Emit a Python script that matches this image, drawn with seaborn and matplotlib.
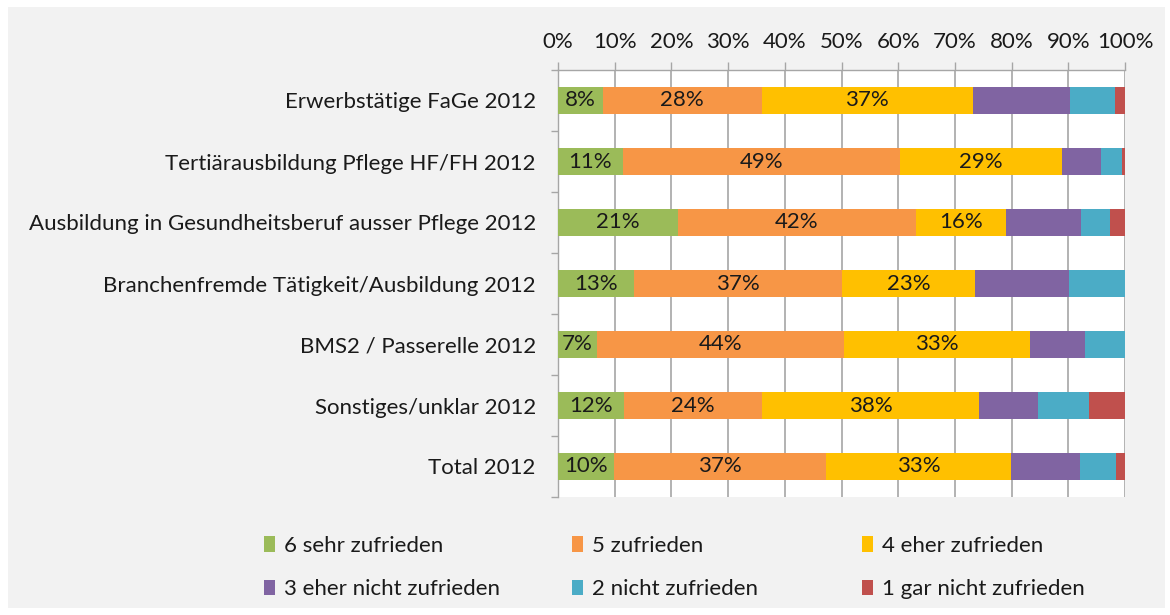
import numpy as np
import pandas as pd
import matplotlib
matplotlib.use("Agg")
import matplotlib.pyplot as plt
from matplotlib.patches import Patch, Rectangle
from matplotlib.ticker import MultipleLocator, FixedLocator, PercentFormatter
import seaborn as sns

# --- Daten (Anteile in %) ---
categories = [
    "Erwerbstätige FaGe 2012",
    "Tertiärausbildung Pflege HF/FH 2012",
    "Ausbildung in Gesundheitsberuf ausser Pflege 2012",
    "Branchenfremde Tätigkeit/Ausbildung 2012",
    "BMS2 / Passerelle 2012",
    "Sonstiges/unklar 2012",
    "Total 2012",
]
series_names = [
    "6 sehr zufrieden",
    "5 zufrieden",
    "4 eher zufrieden",
    "3 eher nicht zufrieden",
    "2 nicht zufrieden",
    "1 gar nicht zufrieden",
]
sehr_zufrieden = [7.9, 11.4, 21.1, 13.4, 6.9, 11.6, 9.9]
zufrieden = [28.0, 48.9, 42.1, 36.7, 43.6, 24.4, 37.3]
eher_zufrieden = [37.3, 28.6, 15.9, 23.4, 32.8, 38.4, 32.7]
eher_nicht = [17.1, 6.8, 13.1, 16.7, 9.8, 10.4, 12.1]
nicht_zufrieden = [8.0, 3.8, 5.2, 9.8, 7.0, 9.0, 6.5]
gar_nicht = [1.7, 0.5, 2.6, 0.0, 0.0, 6.3, 1.5]

colors = ["#9BBB59", "#F79646", "#FFC000", "#8064A2", "#4BACC6", "#C0504D"]
labelled = 3  # nur die ersten drei Serien sind beschriftet
fs = 16
grid_col = "#A6A6A6"

# --- Stil ---
sns.set_theme(style="white")
plt.rcParams["font.family"] = ["Lato", "DejaVu Sans"]

df = pd.DataFrame(
    [sehr_zufrieden, zufrieden, eher_zufrieden, eher_nicht, nicht_zufrieden, gar_nicht],
    index=series_names, columns=categories,
).T
cum = df.cumsum(axis=1)
# auf 100 % normieren
cum = cum.div(cum.iloc[:, -1], axis=0) * 100
starts = cum.shift(axis=1).fillna(0)

fig = plt.figure(figsize=(11.7, 6.15), dpi=100)
fig.patch.set_facecolor("white")
fig.add_artist(Rectangle((8 / 1170, 7 / 615), 1157 / 1170, 601 / 615,
                         transform=fig.transFigure, facecolor="#F2F2F2",
                         edgecolor="none", zorder=-10))

ax = fig.add_axes([558 / 1170, 1 - 497 / 615, 567 / 1170, 427 / 615])
ax.set_facecolor("white")

# gestapelte Balken: kumulierte Summen von hinten nach vorne überlagern
for i in range(len(series_names) - 1, -1, -1):
    name = series_names[i]
    sns.barplot(x=cum[name].values, y=categories, orient="h", color=colors[i],
                width=0.43, saturation=1, edgecolor="none", linewidth=0,
                ax=ax, zorder=3)

# Beschriftungen
for r, cat in enumerate(categories):
    for i in range(labelled):
        name = series_names[i]
        val = df.loc[cat, name]
        mid = starts.loc[cat, name] + (cum.loc[cat, name] - starts.loc[cat, name]) / 2
        ax.text(mid, r, f"{round(val):d}%", ha="center", va="center",
                fontsize=fs, color="#1a1a1a", zorder=5)

ax.set_xlim(0, 100)
ax.set_ylim(len(categories) - 0.5, -0.5)
ax.xaxis.set_major_locator(MultipleLocator(10))
ax.xaxis.set_major_formatter(PercentFormatter(decimals=0))
ax.xaxis.tick_top()
ax.tick_params(axis="x", top=True, bottom=False, length=6, width=1,
               color=grid_col, labelsize=fs, labelcolor="#1a1a1a", pad=7)
ax.yaxis.set_minor_locator(FixedLocator(np.arange(-0.5, len(categories), 1)))
ax.tick_params(axis="y", which="major", length=0, pad=16,
               labelsize=fs, labelcolor="#1a1a1a")
ax.tick_params(axis="y", which="minor", left=True, length=5, width=1, color=grid_col)
ax.set_xlabel("")
ax.set_ylabel("")
for side in ["right", "bottom"]:
    ax.spines[side].set_visible(False)
for side in ["left", "top"]:
    ax.spines[side].set_color(grid_col)
    ax.spines[side].set_linewidth(1)

# Gitterlinien an den Haupt-Ticks der x-Achse
xt = [t for t in ax.get_xticks() if 0 <= t <= 100]
for t in xt:
    ax.axvline(t, color=grid_col, linewidth=1.2, zorder=2)

# Legende: drei Spalten, zeilenweise geordnet
col_x = [255, 563, 853]
for c in range(3):
    handles = [Patch(facecolor=colors[c], edgecolor="none"),
               Patch(facecolor=colors[c + 3], edgecolor="none")]
    labels = [series_names[c], series_names[c + 3]]
    fig.legend(handles, labels, loc="upper left",
               bbox_to_anchor=(col_x[c] / 1170, 1 - 527 / 615),
               frameon=False, fontsize=fs, handlelength=0.5, handleheight=0.7,
               handletextpad=0.4, labelspacing=1.05, borderaxespad=0,
               labelcolor="#1a1a1a")

fig.savefig("out.png", dpi=100, facecolor=fig.get_facecolor())
